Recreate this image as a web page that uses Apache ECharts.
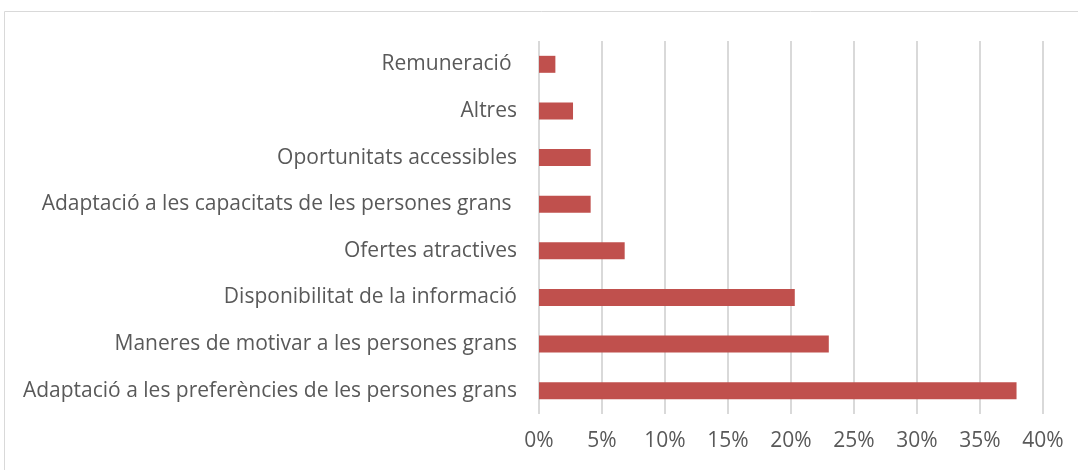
<!DOCTYPE html>
<html>
<head>
<meta charset="utf-8">
<script src="https://cdn.jsdelivr.net/npm/echarts@6/dist/echarts.min.js"></script>
<style>
  html, body { margin: 0; padding: 0; background: #fff; }
  #chart { width: 1078px; height: 470px; }
</style>
</head>
<body>
<div id="chart"></div>
<script>
// categories, bottom to top
var categories = [
  'Adaptació a les preferències de les persones grans',
  'Maneres de motivar a les persones grans',
  'Disponibilitat de la informació',
  'Ofertes atractives',
  'Adaptació a les capacitats de les persones grans ',
  'Oportunitats accessibles',
  'Altres',
  'Remuneració '
];
// percentages
var values = [37.9, 23.0, 20.3, 6.8, 4.1, 4.1, 2.7, 1.3];
var xTicks = [0, 5, 10, 15, 20, 25, 30, 35, 40];

var chart = echarts.init(document.getElementById('chart'));

chart.setOption({
  animation: false,
  textStyle: { fontFamily: 'Open Sans' },
  graphic: [{
    type: 'rect',
    shape: { x: 4.5, y: 11.5, width: 1100, height: 500 },
    style: { fill: 'none', stroke: '#d9d9d9', lineWidth: 1 },
    silent: true
  }],
  grid: { left: 539, right: 35, top: 41, bottom: 56 },
  xAxis: {
    type: 'value',
    min: xTicks[0],
    max: xTicks[xTicks.length - 1],
    interval: 5,
    axisLine: { show: false },
    axisTick: { show: false },
    splitLine: { lineStyle: { color: '#d9d9d9', width: 2 } },
    axisLabel: {
      formatter: '{value}%',
      color: '#595959',
      fontSize: 21,
      margin: 17
    }
  },
  yAxis: {
    type: 'category',
    data: categories,
    axisLine: { show: false },
    axisTick: { show: false },
    axisLabel: { color: '#595959', fontSize: 21, margin: 22 }
  },
  series: [{
    type: 'bar',
    data: values,
    barWidth: 17,
    itemStyle: { color: '#C0504D' }
  }]
});
</script>
</body>
</html>
